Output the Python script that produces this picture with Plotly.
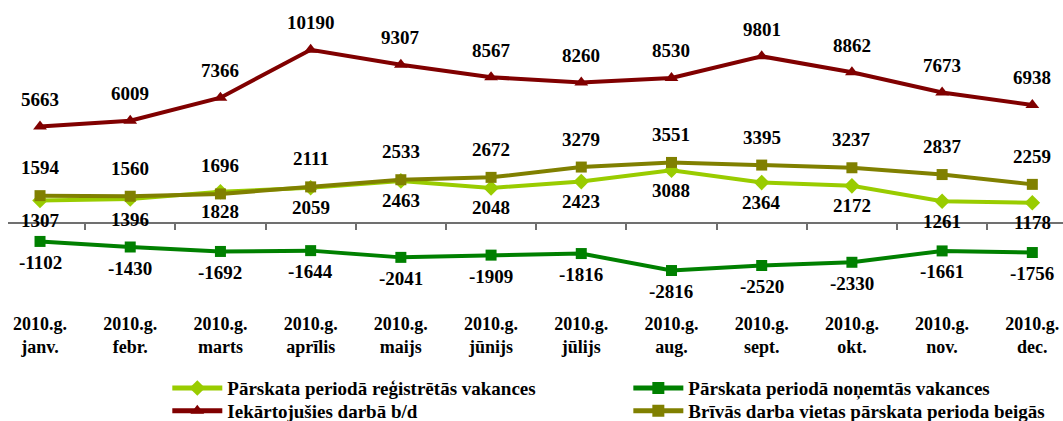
import plotly.graph_objects as go

months = ["janv.", "febr.", "marts", "aprīlis", "maijs", "jūnijs",
          "jūlijs", "aug.", "sept.", "okt.", "nov.", "dec."]
year_prefix = "2010.g."
registered = [1307, 1396, 1828, 2059, 2463, 2048, 2423, 3088, 2364, 2172, 1261, 1178]
removed = [-1102, -1430, -1692, -1644, -2041, -1909, -1816, -2816, -2520, -2330, -1661, -1756]
employed = [5663, 6009, 7366, 10190, 9307, 8567, 8260, 8530, 9801, 8862, 7673, 6938]
free_end = [1594, 1560, 1696, 2111, 2533, 2672, 3279, 3551, 3395, 3237, 2837, 2259]

names = ["Pārskata periodā reģistrētās vakances",
         "Pārskata periodā noņemtās vakances",
         "Iekārtojušies darbā b/d",
         "Brīvās darba vietas pārskata perioda beigās"]

x = list(range(len(months)))
ticktext = [f"{year_prefix}<br>{m}" for m in months]

FONT = "Liberation Serif, Times New Roman, serif"
lab_font = dict(family=FONT, size=19, color="black", weight="bold")

fig = go.Figure()
annotations = []

def add(vals, name, color, symbol, msize, shift, legend):
    fig.add_trace(go.Scatter(
        x=x, y=vals, name=name, mode="lines+markers",
        line=dict(color=color, width=4),
        marker=dict(color=color, symbol=symbol, size=msize),
        legend=legend,
    ))
    for xi, v in zip(x, vals):
        annotations.append(dict(x=xi, y=v, xref="x", yref="y", text=str(v),
                                showarrow=False, yshift=shift, font=lab_font))

add(registered, names[0], "#99CC00", "diamond", 12, -20, "legend")
add(removed, names[1], "#008000", "square", 11, -21, "legend2")
add(employed, names[2], "#800000", "triangle-up", 12, 27, "legend3")
add(free_end, names[3], "#808000", "square", 11, 28, "legend4")

ymin, ymax = -5200, 12000
zero_frac = (0 - ymin) / (ymax - ymin)

def leg(xp, yp):
    return dict(orientation="v", yanchor="middle", y=yp, xanchor="left", x=xp,
                font=dict(family=FONT, size=19, color="black", weight="bold"),
                itemwidth=50, itemsizing="constant",
                borderwidth=0, bgcolor="rgba(0,0,0,0)")

fig.update_layout(
    width=1063, height=421,
    margin=dict(l=8, r=0, t=19, b=110, autoexpand=False),
    paper_bgcolor="white", plot_bgcolor="white",
    font=dict(family=FONT, size=18, color="black"),
    showlegend=True,
    legend=leg(0.151, -0.264),
    legend2=leg(0.588, -0.264),
    legend3=leg(0.151, -0.342),
    legend4=leg(0.588, -0.342),
    annotations=annotations,
    xaxis=dict(range=[-0.355, 11.34], tickmode="array", tickvals=x, ticktext=ticktext,
               showgrid=False, zeroline=False, showline=False, ticks="",
               tickfont=dict(family=FONT, size=18, color="black", weight="bold")),
    xaxis2=dict(range=[-0.355, 11.34], overlaying="x", anchor="free", position=zero_frac,
                side="bottom", showline=True, linecolor="#707070", linewidth=1.5,
                ticks="outside", ticklen=7, tickcolor="#707070", tickwidth=1.5,
                tickmode="array", tickvals=[i + 0.5 for i in x[:-1]],
                showticklabels=False, showgrid=False, zeroline=False),
    yaxis=dict(range=[ymin, ymax], visible=False, showgrid=False, zeroline=False),
)
fig.add_trace(go.Scatter(x=[x[0]], y=[0], xaxis="x2", mode="markers",
                         marker=dict(opacity=0), showlegend=False, hoverinfo="skip"))

fig.write_html("out.html", config={"displayModeBar": False},
               post_script="document.body.style.margin='0';document.body.style.overflow='hidden';")
